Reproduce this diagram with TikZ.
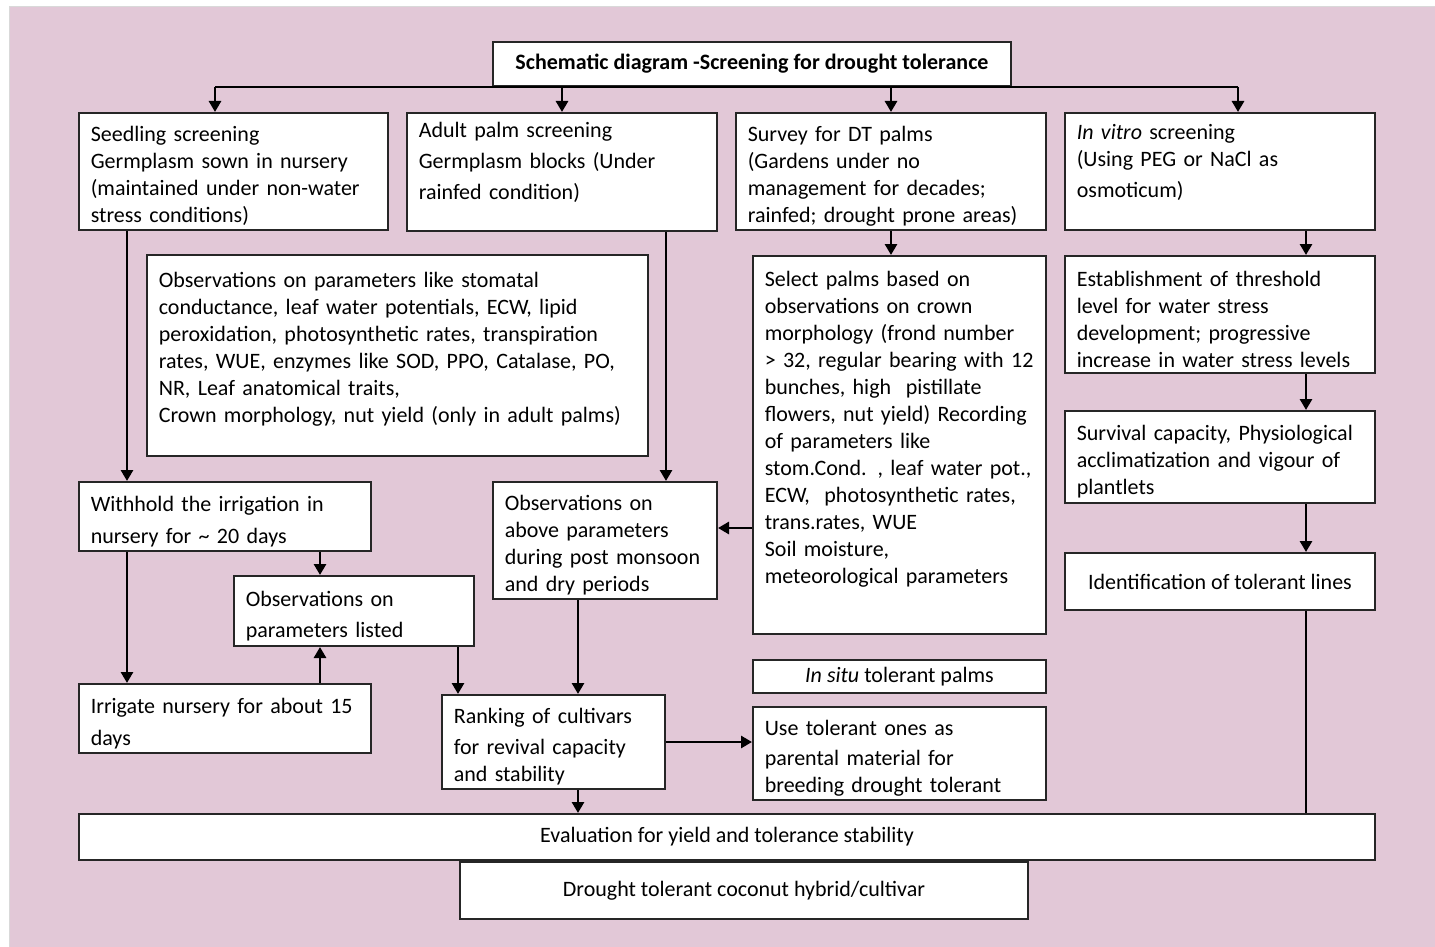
\documentclass[tikz,border=0pt]{standalone}
\usepackage{fontspec}
\setmainfont{Carlito}
\usetikzlibrary{arrows.meta}
\definecolor{bgpink}{RGB}{226,200,215}

\begin{document}
\begin{tikzpicture}[
		x=0.5pt, y=-0.5pt,
		cell/.style={draw=black!85, line width=0.8pt, fill=white, anchor=north west, inner xsep=6pt, inner ysep=0pt, font=\fontsize{11}{13.5}\selectfont},
		box/.style={cell, align=left, execute at begin node={\rule{0pt}{12.5pt}}},
		cbox/.style={cell, align=center},
		conn/.style={line width=1.4pt},
		arr/.style={conn, -{Triangle[length=5.5pt,width=6pt]}},
	]
		% background
		\fill[white] (0,0) rectangle (1435,947);
		\useasboundingbox (0,0) rectangle (1435,947);
		\filldraw[fill=bgpink, draw=black!15] (9,6) rectangle (1440,952);
		
		\node (title) [cbox, minimum width=259.2pt, minimum height=22.2pt, font=\fontsize{11}{13.5}\selectfont\bfseries] at (492,41) {Schematic diagram -Screening for drought tolerance};
		
		% four screening routes
		\node (seed) [box, text width=142.7pt, minimum height=58.7pt] at (78,112) {Seedling screening\\ Germplasm sown in nursery\\ (maintained under non-water\\ stress conditions)};
		\node (adult) [box, text width=143.2pt, minimum height=58.7pt] at (406,112) {Adult palm screening\\[2pt] Germplasm blocks (Under\\[2pt] rainfed condition)\\[2pt] ~};
		\node (survey) [box, text width=143.2pt, minimum height=58.7pt] at (735,112) {Survey for DT palms\\ (Gardens under no\\ management for decades;\\ rainfed; drought prone areas)};
		\node (vitro) [box, text width=143.2pt, minimum height=58.7pt] at (1064,112) {\textit{In vitro} screening\\ (Using PEG or NaCl as\\[2pt] osmoticum)\\[2pt] ~};
		
		\node (params) [box, text width=238.7pt, minimum height=100.7pt] at (146,254) {Observations on parameters like stomatal\\ conductance, leaf water potentials, ECW, lipid\\ peroxidation, photosynthetic rates, transpiration\\ rates, WUE, enzymes like SOD, PPO, Catalase, PO,\\ NR, Leaf anatomical traits,\\ Crown morphology, nut yield (only in adult palms)\\ ~};
		\node (select) [box, text width=134.7pt, minimum height=189.2pt] at (752,255) {Select palms based on\\ observations on crown\\ morphology (frond number\\ > 32, regular bearing with 12\\ bunches, high\ \ pistillate\\ flowers, nut yield) Recording\\ of parameters like\\ stom.Cond. , leaf water pot.,\\ ECW,\ \ photosynthetic rates,\\ trans.rates, WUE\\ Soil moisture,\\ meteorological parameters\\[9pt] ~};
		\node (thresh) [box, text width=143.2pt, minimum height=58.7pt] at (1064,255) {Establishment of threshold\\ level for water stress\\ development; progressive\\ increase in water stress levels};
		\node (survive) [box, text width=143.2pt, minimum height=46.2pt] at (1064,410) {Survival capacity, Physiological\\ acclimatization and vigour of\\ plantlets};
		\node (ident) [cbox, minimum width=155.2pt, minimum height=28.7pt] at (1064,552) {Identification of tolerant lines};
		
		% nursery cycle
		\node (withhold) [box, text width=134.2pt, minimum height=34.7pt] at (78,481) {Withhold the irrigation in\\[2.5pt] nursery for \textasciitilde{} 20 days};
		\node (listed) [box, text width=108.2pt, minimum height=35.2pt] at (233,575) {Observations on\\[2pt] parameters listed};
		\node (irrigate) [box, text width=134.2pt, minimum height=34.7pt] at (78,683) {Irrigate nursery for about 15\\[2.5pt] days};
		\node (above) [box, text width=100.2pt, minimum height=58.7pt] at (492,481) {Observations on\\ above parameters\\ during post monsoon\\ and dry periods};
		\node (rank) [box, text width=99.7pt, minimum height=47.2pt] at (441,694) {Ranking of cultivars\\[2pt] for revival capacity\\ and stability};
		\node (insitu) [cbox, minimum width=146.7pt, minimum height=16.7pt] at (752,659) {\textit{In situ} tolerant palms};
		\node (usetol) [box, text width=134.7pt, minimum height=46.7pt] at (752,706) {Use tolerant ones as\\[1.5pt] parental material for\\ breeding drought tolerant};
		
		\node (eval) [cbox, minimum width=648.2pt, minimum height=23.2pt] at (78,813) {Evaluation for yield and tolerance stability};
		\node (final) [cbox, minimum width=284.2pt, minimum height=28.7pt] at (459,861) {Drought tolerant coconut hybrid/cultivar};
		
		% from the title
		\coordinate (t1) at ([xshift=68.5pt]seed.north west);
		\coordinate (t2) at ([xshift=78pt]adult.north west);
		\coordinate (t3) at ([xshift=78pt]survey.north west);
		\coordinate (t4) at ([xshift=87pt]vitro.north west);
		\draw[conn] (title.south -| t1) -- (title.south -| t4);
		\foreach \c in {t1,t2,t3,t4}
			\draw[arr] (title.south -| \c) -- (\c);
		
		% seedling route
		\draw[arr] ([xshift=24.5pt]seed.south west) coordinate (s1) -- (s1 |- withhold.north);
		\draw[arr] (s1 |- withhold.south) -- (s1 |- irrigate.north);
		\draw[arr] ([xshift=121pt]withhold.south west) coordinate (w1) -- (w1 |- listed.north);
		\draw[arr] (w1 |- irrigate.north) -- (w1 |- listed.south);
		\draw[arr] ([xshift=112.5pt]listed.south west) coordinate (l1) -- (l1 |- rank.north);
		
		% adult palms and survey
		\draw[arr] ([xshift=130pt]adult.south west) coordinate (a1) -- (a1 |- above.north);
		\draw[arr] ([xshift=78pt]survey.south west) coordinate (u1) -- (u1 |- select.north);
		\draw[arr] ([yshift=-41.5pt]select.west) coordinate (p1) -- (p1 -| above.east);
		\draw[arr] ([xshift=43pt]above.south west) coordinate (o1) -- (o1 |- rank.north);
		\draw[arr] (rank.east) -- (rank.east -| usetol.west);
		\draw[arr] (o1 |- rank.south) -- (o1 |- eval.north);
		
		% in vitro route
		\draw[arr] ([xshift=121pt]vitro.south west) coordinate (v1) -- (v1 |- thresh.north);
		\draw[arr] (v1 |- thresh.south) -- (v1 |- survive.north);
		\draw[arr] (v1 |- survive.south) -- (v1 |- ident.north);
		\draw[conn] (v1 |- ident.south) -- (v1 |- eval.north);
	\end{tikzpicture}
\end{document}
